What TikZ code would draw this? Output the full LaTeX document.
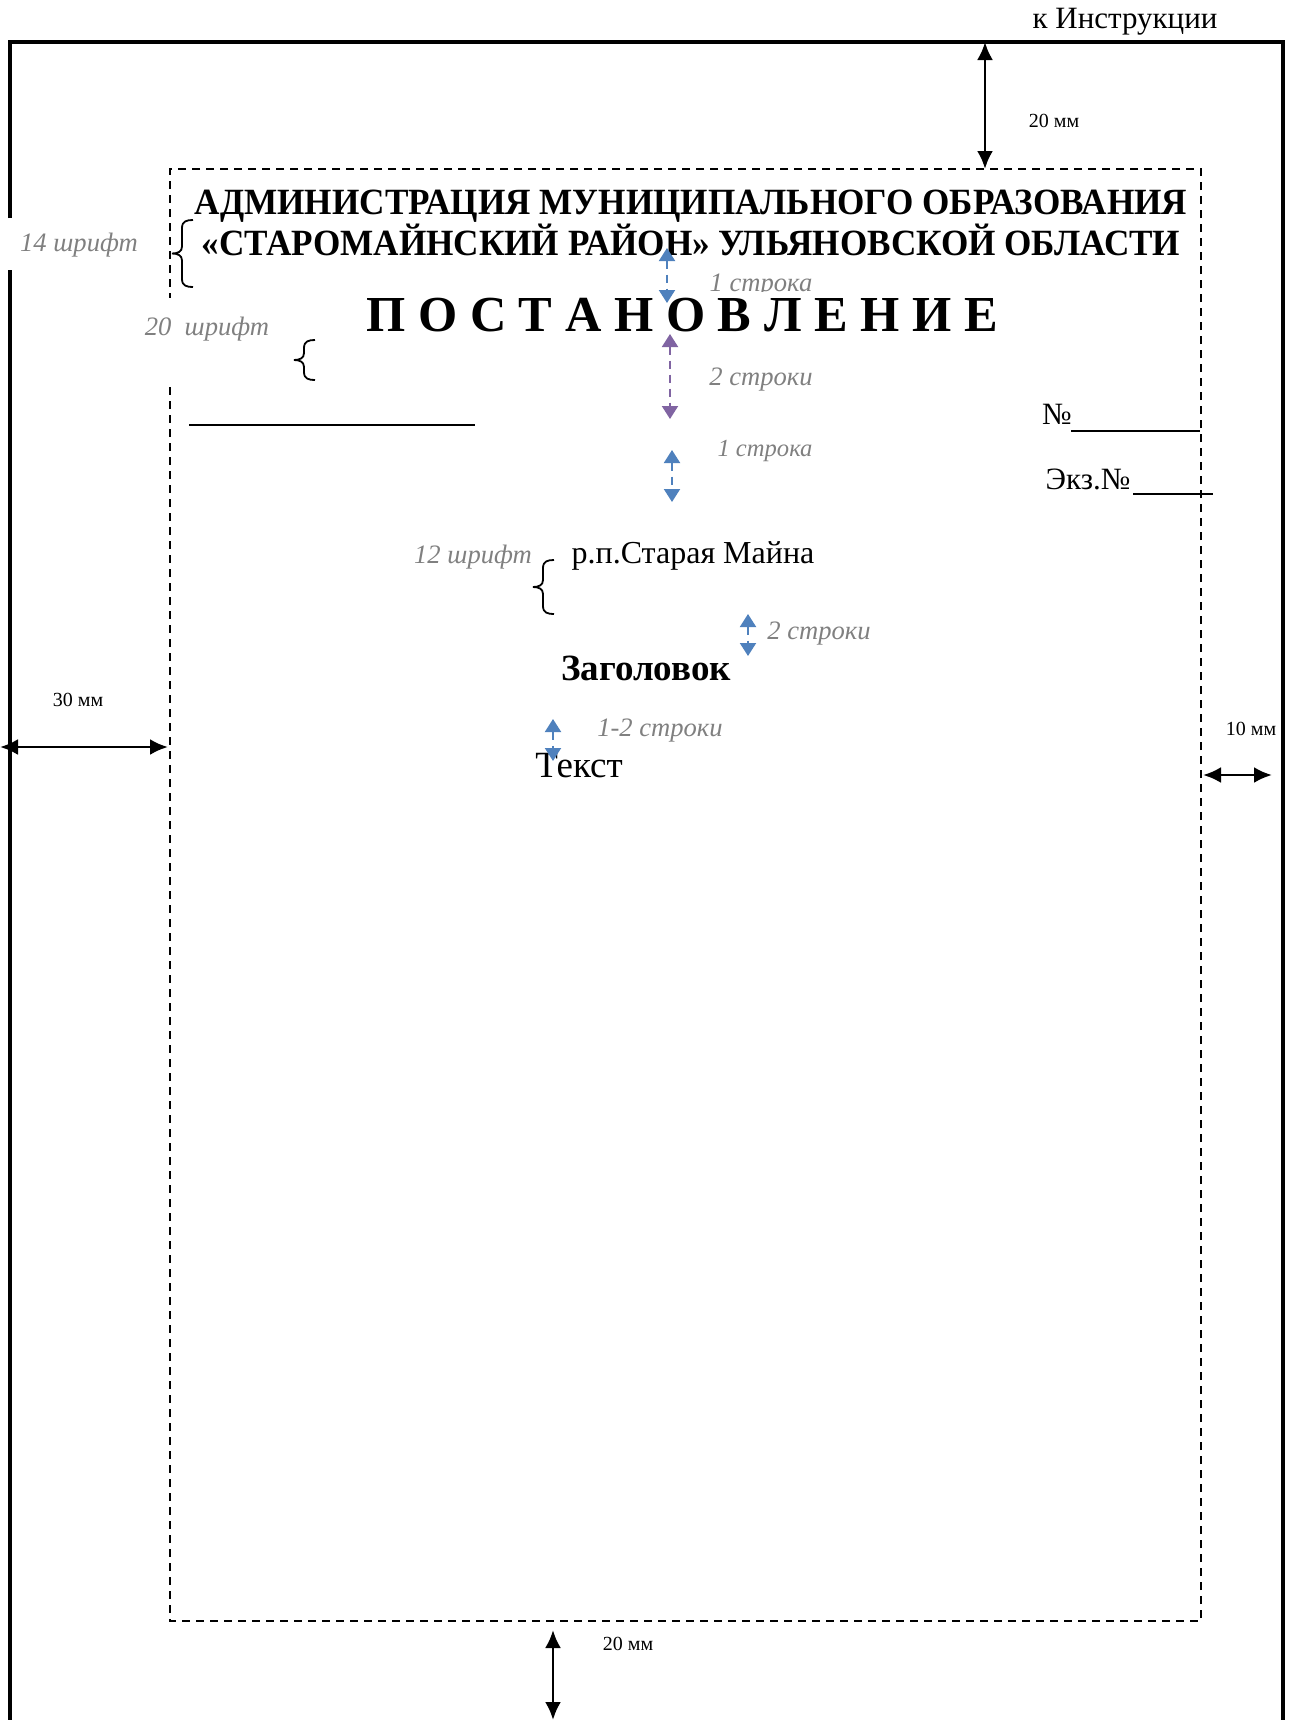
\documentclass[tikz,border=0pt]{standalone}
\usepackage{fontspec}
\setmainfont{Liberation Serif}
\newfontfamily\narrowserif[FakeStretch=0.95]{Liberation Serif}
\usetikzlibrary{arrows.meta}
\definecolor{lineblue}{RGB}{79,129,189}
\definecolor{linepurple}{RGB}{128,100,162}
\definecolor{hintgray}{RGB}{128,128,128}
\begin{document}
\begin{tikzpicture}[x=0.5pt,y=-0.5pt,every node/.style={inner sep=0pt},
    sheet/.style={line width=1.6pt},
    field/.style={line width=0.9pt,dash pattern=on 4pt off 3pt},
    size arrow/.style={line width=1.4pt,{Latex[length=9pt,width=8pt]}-{Latex[length=9pt,width=8pt]}},
    gap arrow/.style={line width=1pt,dash pattern=on 4pt off 3pt,{Triangle[length=6.5pt,width=8pt]}-{Triangle[length=6.5pt,width=8pt]}},
    hint/.style={text=hintgray,font=\fontsize{13.3}{15}\selectfont\itshape},
    mm/.style={font=\fontsize{10}{12}\selectfont},
    pics/lbrace/.style={code={
      \pgfmathsetmacro\bh{#1}\pgfmathsetmacro\bm{#1/2}
      \draw[line width=0.9pt] (0,0) .. controls (-6,0) and (-11,1) .. (-11,8) -- (-11,\bm-7)
        .. controls (-11,\bm-2) and (-15,\bm) .. (-21,\bm)
        .. controls (-15,\bm) and (-11,\bm+2) .. (-11,\bm+7) -- (-11,\bh-8)
        .. controls (-11,\bh-1) and (-6,\bh) .. (0,\bh);}}]
  \useasboundingbox (0,0) rectangle (1294,1720);
  % лист и поля
  \draw[sheet] (10,1720) -- (10,270);
  \draw[sheet] (10,218) -- (10,42) -- (1283,42) -- (1283,1720);
  \draw[field] (170,387) -- (170,1621) -- (1201,1621) -- (1201,169) -- (170,169) -- (170,298);
  \node[font=\fontsize{15.5}{18}\selectfont] (instr) at (1125,22) {к Инструкции};

  % размеры полей
  \coordinate (t1) at (985,42);   \coordinate (t2) at (985,169);
  \coordinate (l1) at (0,747);    \coordinate (l2) at (168,747);
  \coordinate (r1) at (1203,775); \coordinate (r2) at (1272,775);
  \coordinate (b1) at (553,1630); \coordinate (b2) at (553,1720);
  \draw[size arrow] (t1) -- (t2);
  \draw[size arrow] (l1) -- (l2);
  \draw[size arrow] (r1) -- (r2);
  \draw[size arrow] (b1) -- (b2);
  \node[mm] (mmtop) at (1054,121) {20 мм};
  \node[mm] (mmleft) at (78,700) {30 мм};
  \node[mm] (mmright) at (1251,729) {10 мм};
  \node[mm] (mmbottom) at (628,1644) {20 мм};

  % шапка
  \node[font=\fontsize{18.5}{19.5}\narrowserif\bfseries,align=center] (adm) at (691,223)
    {АДМИНИСТРАЦИЯ МУНИЦИПАЛЬНОГО ОБРАЗОВАНИЯ\\«СТАРОМАЙНСКИЙ РАЙОН» УЛЬЯНОВСКОЙ ОБЛАСТИ};
  \node[hint] (h1) at (761,286) {1 строка};
  \node[font=\fontsize{25.2}{28}\selectfont\bfseries,fill=white,inner ysep=3pt] (title) at (682,315)
    {П О С Т А Н О В Л Е Н И Е};
  \node[hint] (h2) at (761,380) {2 строки};
  \node[hint,font=\fontsize{12.3}{14}\selectfont\itshape] (h3) at (765,451) {1 строка};
  \draw[line width=0.6pt] (189,425) -- (475,425);
  \node[font=\fontsize{15.5}{18}\selectfont] (no) at (1057,414) {№};
  \draw[line width=0.6pt] (1071,431) -- (1200,431);
  \node[font=\fontsize{15.5}{18}\selectfont] (ekz) at (1088,479) {Экз.№};
  \draw[line width=0.6pt] (1133,494) -- (1213,494);

  \node[font=\fontsize{16}{18}\selectfont] (place) at (693,556) {р.п.Старая Майна};
  \node[hint] (h4) at (473,557) {12 шрифт};
  \node[hint] (h5) at (819,634) {2 строки};
  \node[font=\fontsize{18.5}{20}\selectfont\bfseries] (head) at (646,668) {Заголовок};
  \node[hint] (h6) at (660,731) {1-2 строки};
  \node[font=\fontsize{18.5}{20}\selectfont] (text) at (579,766) {Текст};

  % размеры шрифта
  \node[hint] (f14) at (79,245) {14 шрифт};
  \node[hint] (f20) at (207,329) {20\ \ шрифт};
  \pic at (193,220) {lbrace=67};
  \pic at (315,340) {lbrace=40};
  \pic at (554,560) {lbrace=54};

  % интервалы
  \coordinate (a1) at (667,248); \coordinate (a2) at (667,303);
  \coordinate (p1) at (670,334); \coordinate (p2) at (670,419);
  \coordinate (c1) at (672,450); \coordinate (c2) at (672,502);
  \coordinate (d1) at (748,614); \coordinate (d2) at (748,656);
  \coordinate (e1) at (553,719); \coordinate (e2) at (553,761);
  \draw[gap arrow,lineblue] (a1) -- (a2);
  \draw[gap arrow,linepurple] (p1) -- (p2);
  \draw[gap arrow,lineblue] (c1) -- (c2);
  \draw[gap arrow,lineblue] (d1) -- (d2);
  \draw[gap arrow,lineblue] (e1) -- (e2);
\end{tikzpicture}
\end{document}
